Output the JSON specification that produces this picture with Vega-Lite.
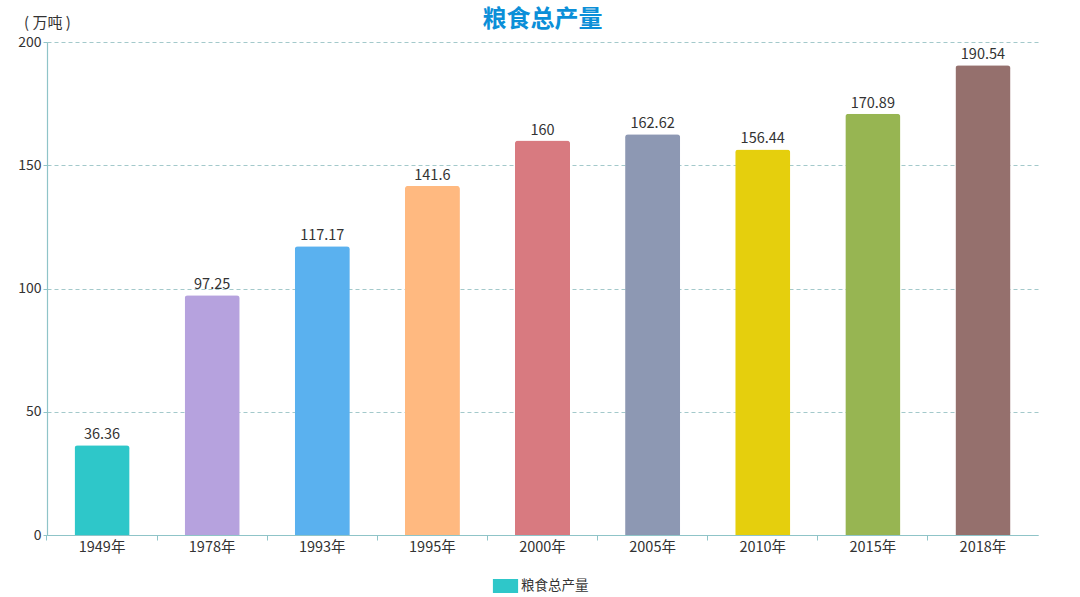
{
  "$schema": "https://vega.github.io/schema/vega-lite/v6.json",
  "width": 991,
  "height": 493,
  "autosize": {"type": "none"},
  "padding": {"left": 47, "top": 42, "right": 42, "bottom": 62},
  "title": {
    "text": "粮食总产量",
    "font": "Noto Sans CJK SC",
    "fontSize": 24,
    "fontWeight": "bold",
    "color": "#0b8fd8",
    "anchor": "middle",
    "offset": -17
  },
  "config": {
    "view": {"stroke": null},
    "font": "Noto Sans CJK SC",
    "axis": {"labelFont": "Noto Sans CJK SC", "titleFont": "Noto Sans CJK SC"}
  },
  "data": {
    "values": [
      {"year": "1949年", "value": 36.36, "series": "粮食总产量"},
      {"year": "1978年", "value": 97.25, "series": "粮食总产量"},
      {"year": "1993年", "value": 117.17, "series": "粮食总产量"},
      {"year": "1995年", "value": 141.6, "series": "粮食总产量"},
      {"year": "2000年", "value": 160, "series": "粮食总产量"},
      {"year": "2005年", "value": 162.62, "series": "粮食总产量"},
      {"year": "2010年", "value": 156.44, "series": "粮食总产量"},
      {"year": "2015年", "value": 170.89, "series": "粮食总产量"},
      {"year": "2018年", "value": 190.54, "series": "粮食总产量"}
    ]
  },
  "resolve": {"axis": {"x": "independent"}},
  "layer": [
    {
      "mark": {"type": "bar", "cornerRadiusTopLeft": 3, "cornerRadiusTopRight": 3},
      "encoding": {
        "x": {
          "field": "year", "type": "nominal", "sort": null,
          "scale": {"paddingInner": 0.5, "paddingOuter": 0.25},
          "axis": {
            "orient": "bottom", "title": null, "labelAngle": 0, "labelFontSize": 14.5,
            "labelColor": "#333333", "labelPadding": 5, "ticks": false,
            "domainColor": "#8fc4c8", "domainWidth": 1.2, "grid": false
          }
        },
        "y": {
          "field": "value", "type": "quantitative",
          "scale": {"domain": [0, 200], "nice": false},
          "axis": {
            "title": "( 万吨 )", "titleAngle": 0, "titleX": 0, "titleY": -20,
            "titleAlign": "center", "titleBaseline": "middle", "titleFontSize": 15,
            "titleFontWeight": "normal", "titleColor": "#333333",
            "values": [0, 50, 100, 150, 200], "labelFontSize": 14, "labelColor": "#333333",
            "labelPadding": 2, "tickSize": 4, "tickColor": "#8fc4c8",
            "domainColor": "#8fc4c8", "domainWidth": 1.2,
            "grid": true, "gridDash": [4, 3], "gridColor": "#a3c9cb", "gridWidth": 1
          }
        },
        "fill": {
          "field": "year", "type": "nominal", "sort": null,
          "scale": {
            "domain": ["1949年", "1978年", "1993年", "1995年", "2000年", "2005年", "2010年", "2015年", "2018年"],
            "range": ["#2ec7c9", "#b6a2de", "#5ab1ef", "#ffb980", "#d87a80", "#8d98b3", "#e5cf0d", "#97b552", "#95706d"]
          },
          "legend": null
        }
      }
    },
    {
      "mark": {"type": "text", "dy": -10, "fontSize": 14.5, "color": "#333333", "font": "Noto Sans CJK SC"},
      "encoding": {
        "x": {
          "field": "year", "type": "nominal", "sort": null,
          "axis": {
            "orient": "bottom", "title": null, "labels": false, "domain": false, "grid": false,
            "ticks": true, "tickSize": 5, "tickColor": "#8fc4c8", "bandPosition": -0.5
          }
        },
        "y": {"field": "value", "type": "quantitative"},
        "text": {"field": "value", "type": "nominal"}
      }
    },
    {
      "transform": [{"filter": "datum.value < 0"}],
      "mark": {"type": "bar"},
      "encoding": {
        "x": {"field": "year", "type": "nominal", "sort": null, "axis": null},
        "y": {"field": "value", "type": "quantitative"},
        "color": {
          "field": "series", "type": "nominal",
          "scale": {"domain": ["粮食总产量"], "range": ["#2ec7c9"]},
          "legend": {
            "title": null, "orient": "none", "legendX": 451.5, "legendY": 537,
            "padding": 0, "symbolType": "M-1.8,-1H1.8V1H-1.8Z", "symbolSize": 196,
            "symbolStrokeWidth": 0, "labelOffset": 8.5, "labelFontSize": 13.5,
            "labelColor": "#333333", "labelFont": "Noto Sans CJK SC"
          }
        }
      }
    }
  ]
}
